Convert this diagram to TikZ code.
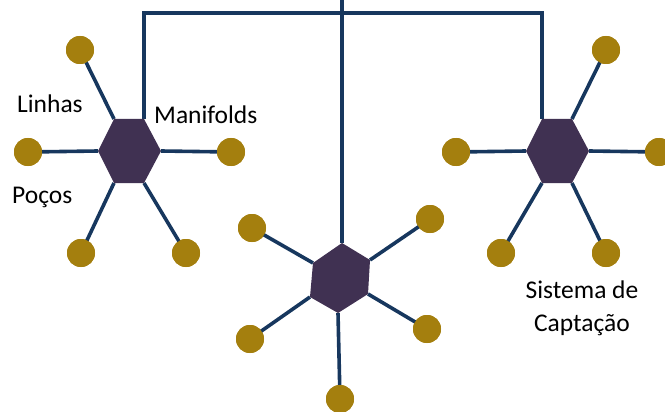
\documentclass[tikz,border=0pt]{standalone}
\usepackage{fontspec}
\setmainfont{Carlito}
\definecolor{hexpurple}{HTML}{403152}
\definecolor{dotgold}{HTML}{A47F0E}
\definecolor{linenavy}{HTML}{17375E}
\tikzset{
  dot/.style={circle,fill=dotgold,minimum size=28pt,inner sep=0pt},
  link/.style={draw=linenavy,line width=3.6pt},
  hexfill/.style={fill=hexpurple},
  lbl/.style={font=\fontsize{25.5}{33}\selectfont,inner sep=0pt,text=black}
}
\begin{document}
\begin{tikzpicture}[x=1pt,y=-1pt]
\useasboundingbox (0,0) rectangle (665,412);
% left hexagon vertices
\coordinate (aL) at (98,151);  \coordinate (aTL) at (114,119); \coordinate (aTR) at (144,119);
\coordinate (aR) at (161,151); \coordinate (aBR) at (144,183); \coordinate (aBL) at (114,183);
% right hexagon vertices
\coordinate (bL) at (526,151); \coordinate (bTL) at (542,119); \coordinate (bTR) at (572,119);
\coordinate (bR) at (589,151); \coordinate (bBR) at (572,183); \coordinate (bBL) at (542,183);
% middle hexagon vertices
\coordinate (cT) at (342,243);  \coordinate (cUR) at (370,260); \coordinate (cLR) at (368,294);
\coordinate (cB) at (338,313);  \coordinate (cLL) at (310,297); \coordinate (cUL) at (313,263);
\coordinate (topend) at (342,0);
\coordinate (busL) at (144,13); \coordinate (busR) at (542,13);
% dots
\node[dot] (a1) at (80,50) {};  \node[dot] (a2) at (28,152) {}; \node[dot] (a3) at (231,152) {};
\node[dot] (a4) at (81,253) {}; \node[dot] (a5) at (186,253) {};
\node[dot] (b1) at (606,50) {}; \node[dot] (b2) at (456,152) {}; \node[dot] (b3) at (659,152) {};
\node[dot] (b4) at (501,253) {}; \node[dot] (b5) at (606,253) {};
\node[dot] (c1) at (252,228) {}; \node[dot] (c2) at (430,219) {}; \node[dot] (c3) at (250,339) {};
\node[dot] (c4) at (427,329) {}; \node[dot] (c5) at (340,399) {};
% connectors
\draw[link] (aTR) -- (busL) -- (busR) -- (bTL);
\draw[link] (topend) -- (cT);
\draw[link] (a1.center) -- (aTL); \draw[link] (a2.center) -- (aL); \draw[link] (a3.center) -- (aR);
\draw[link] (a4.center) -- (aBL); \draw[link] (a5.center) -- (aBR);
\draw[link] (b1.center) -- (bTR); \draw[link] (b2.center) -- (bL); \draw[link] (b3.center) -- (bR);
\draw[link] (b4.center) -- (bBL); \draw[link] (b5.center) -- (bBR);
\draw[link] (c1.center) -- (cUL); \draw[link] (c2.center) -- (cUR); \draw[link] (c3.center) -- (cLL);
\draw[link] (c4.center) -- (cLR); \draw[link] (c5.center) -- (cB);
% redraw dots on top
\foreach \d in {a1,a2,a3,a4,a5,b1,b2,b3,b4,b5,c1,c2,c3,c4,c5}
  \fill[dotgold] (\d.center) circle (14pt);
% hexagons
\fill[hexfill] (aL) -- (aTL) -- (aTR) -- (aR) -- (aBR) -- (aBL) -- cycle;
\fill[hexfill] (bL) -- (bTL) -- (bTR) -- (bR) -- (bBR) -- (bBL) -- cycle;
\fill[hexfill] (cT) -- (cUR) -- (cLR) -- (cB) -- (cLL) -- (cUL) -- cycle;
% labels
\node[lbl,anchor=base west] (linhas) at (17,113) {Linhas};
\node[lbl,anchor=base west] (pocos) at (12,203) {Poços};
\node[lbl,anchor=base west] (manif) at (154,124) {Manifolds};
\node[lbl,anchor=base] (sis1) at (582,298) {Sistema de};
\node[lbl,anchor=base] (sis2) at (582,331) {Captação};
\end{tikzpicture}
\end{document}
